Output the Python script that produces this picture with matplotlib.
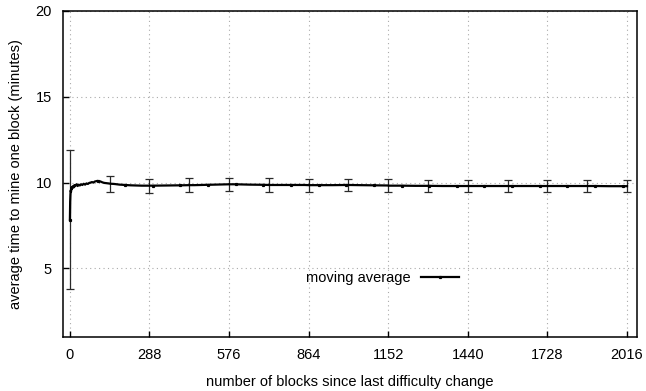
import matplotlib
matplotlib.use("Agg")
import matplotlib.pyplot as plt

plt.rcParams['font.family'] = ['Liberation Sans', 'DejaVu Sans']

# moving average of block time (minutes) vs blocks since retarget
blocks = [0, 1, 2, 3, 4, 5, 6, 8, 10, 12, 14, 16, 18, 20, 24, 28, 32, 36, 40,
          45, 50, 55, 60, 65, 70, 75, 80, 85, 90, 95, 100, 105, 110, 115, 120,
          125, 130, 135, 140, 144, 150, 160, 170, 180, 190, 200, 220, 240, 260,
          288, 300, 350, 400, 432, 450, 500, 550, 576, 600, 650, 700, 720, 750,
          800, 850, 864, 900, 950, 1000, 1008, 1050, 1100, 1150, 1152, 1200,
          1250, 1296, 1300, 1350, 1400, 1440, 1450, 1500, 1550, 1584, 1600,
          1650, 1700, 1728, 1750, 1800, 1850, 1872, 1900, 1950, 2000, 2016]
avg_time = [7.84, 8.9, 9.3, 9.55, 9.45, 9.7, 9.6, 9.75, 9.7, 9.8, 9.72, 9.85,
            9.78, 9.82, 9.9, 9.8, 9.88, 9.83, 9.9, 9.86, 9.93, 9.88, 9.95, 9.92,
            9.98, 10.0, 10.03, 10.0, 10.06, 10.08, 10.1, 10.05, 10.07, 10.03,
            10.0, 9.98, 9.97, 9.96, 9.95, 9.94, 9.93, 9.92, 9.9, 9.88, 9.87,
            9.86, 9.84, 9.83, 9.82, 9.82, 9.82, 9.83, 9.84, 9.85, 9.85, 9.87,
            9.89, 9.9, 9.9, 9.88, 9.87, 9.86, 9.86, 9.86, 9.86, 9.85, 9.85,
            9.85, 9.86, 9.86, 9.85, 9.84, 9.83, 9.82, 9.82, 9.81, 9.81, 9.81,
            9.8, 9.8, 9.8, 9.8, 9.8, 9.8, 9.8, 9.8, 9.8, 9.8, 9.8, 9.8, 9.8,
            9.8, 9.8, 9.8, 9.79, 9.79, 9.79]

# standard error bars, every 144 blocks
err_blocks = [0, 144, 288, 432, 576, 720, 864, 1008, 1152, 1296, 1440, 1584,
              1728, 1872, 2016]
err_center = [7.84, 9.94, 9.82, 9.85, 9.9, 9.86, 9.85, 9.86, 9.82, 9.81, 9.8,
              9.8, 9.8, 9.8, 9.79]
err_size = [4.05, 0.47, 0.4, 0.4, 0.39, 0.38, 0.37, 0.36, 0.36, 0.35, 0.35,
            0.34, 0.34, 0.34, 0.34]

xticks = [0, 288, 576, 864, 1152, 1440, 1728, 2016]
yticks = [5, 10, 15, 20]

fig = plt.figure(figsize=(6.46, 3.91), dpi=100)
ax = fig.add_axes([0.0975, 0.138, 0.8885, 0.834])

ax.errorbar(err_blocks, err_center, yerr=err_size, fmt='none',
            ecolor='#2a2a2a', elinewidth=0.9, capsize=2.6, capthick=0.9,
            zorder=2)

marks = [i for i, b in enumerate(blocks) if b % 100 == 0]
ax.plot(blocks, avg_time, color='black', lw=1.6, marker='s', ms=1.3,
        markevery=marks, label='moving average', zorder=3)

ax.set_xlim(-25, 2052)
ax.set_ylim(1, 20)
ax.set_xticks(xticks)
ax.set_yticks(yticks)
ax.grid(True, color='#aaaaaa', lw=0.8, linestyle=(0, (1, 3)))
ax.tick_params(direction='in', length=4, width=1, labelsize=10.5,
               top=False, right=False, pad=8)
for s in ax.spines.values():
    s.set_linewidth(1.1)

ax.set_xlabel('number of blocks since last difficulty change', fontsize=10.5,
              labelpad=9)
ax.set_ylabel('average time to mine one block (minutes)', fontsize=10.5,
              labelpad=9)

ax.legend(loc='center', bbox_to_anchor=(0.557, 0.18), frameon=False,
          markerfirst=False, handlelength=2.6, handletextpad=0.7,
          fontsize=10.5)

fig.savefig('out.png', dpi=100)
